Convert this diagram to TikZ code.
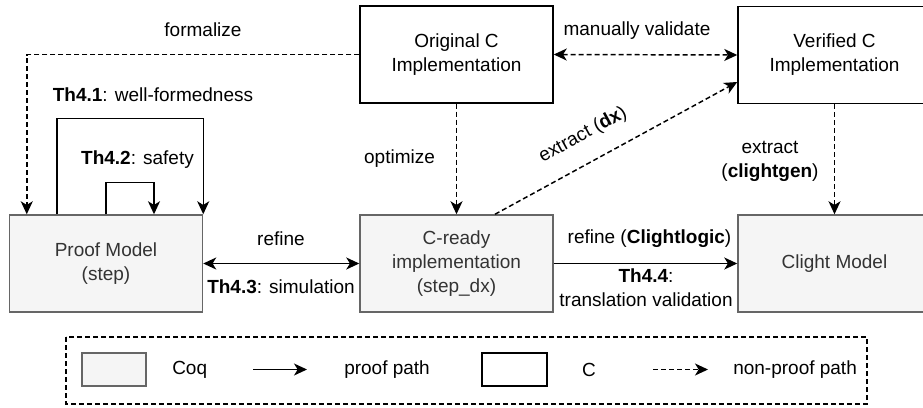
\documentclass[tikz,border=0pt]{standalone}
\usepackage{fontspec}
\setmainfont{Liberation Sans}
\usetikzlibrary{arrows.meta,calc}

\definecolor{coqfill}{HTML}{F5F5F5}
\definecolor{coqline}{HTML}{666666}
\definecolor{coqtext}{HTML}{333333}

\tikzset{
  >={Stealth[length=9.75pt,width=9pt,inset=2.75pt]},
  coqbox/.style={draw=coqline, fill=coqfill, text=coqtext, line width=1.1pt, minimum width=144.75pt, minimum height=72.75pt, inner sep=0pt, align=center},
  cbox/.style={draw=black, fill=white, line width=1.1pt, minimum width=144.75pt, minimum height=72.75pt, inner sep=0pt, align=center},
  pline/.style={line width=1.1pt},
  dline/.style={line width=1.1pt, dash pattern={on 3.75pt off 2.25pt}},
  lbl/.style={inner sep=0.75pt, align=center},
}

\begin{document}
\begin{tikzpicture}[x=0.75pt,y=0.75pt,yscale=-1,xscale=1,font=\fontsize{14.25}{18}\selectfont]
\useasboundingbox (0,0) rectangle (923,407);

%Shape: Rectangle
\node[cbox] (orig) at (456.5,54.5) {Original C\\Implementation};
%Shape: Rectangle
\node[cbox] (verif) at (834.5,55) {Verified C\\Implementation};
%Shape: Rectangle
\node[coqbox] (proof) at (106,263.5) {Proof Model\\(step)};
%Shape: Rectangle
\node[coqbox] (cready) at (456.5,263.5) {C-ready\\implementation\\(step\_dx)};
%Shape: Rectangle
\node[coqbox] (clight) at (834.5,263.5) {Clight Model};

%Straight Lines
\draw[dline,->] (orig.west) -| ($(proof.north west)+(18,0)$);
%Straight Lines
\draw[pline,->] ($(proof.north west)+(48,0)$) -- ++(0,-96) -| (proof.north east);
%Straight Lines
\draw[pline,->] (proof.north) -- ++(0,-32) -| ($(proof.north)+(48,0)$);
%Straight Lines
\draw[dline,->] (orig.south) -- (cready.north);
%Straight Lines
\draw[dline,<->] (orig.east) -- (verif.west);
%Straight Lines
\draw[dline,->] ($(cready.north)+(38.5,0)$) -- ($(verif.west)+(0,27)$);
%Straight Lines
\draw[dline,->] (verif.south) -- (clight.north);
%Straight Lines
\draw[pline,<->] (proof.east) -- (cready.west);
%Straight Lines
\draw[pline,->] (cready.east) -- (clight.west);

% Text Node
\node[lbl] (formalize) at (203,30) {formalize};
% Text Node
\node[lbl] (wellformed) at (153,95) {\textbf{Th4.1}: well-formedness};
% Text Node
\node[lbl] (safety) at (137.5,160) {\textbf{Th4.2}: safety};
% Text Node
\node[lbl] (optimize) at (399.5,159) {optimize};
% Text Node
\node[lbl] (validate) at (637,31) {manually validate};
% Text Node
\node[lbl, rotate=28.7] (extractdx) at (583,135) {extract (\textbf{dx})};
% Text Node
\node[lbl] (clightgen) at (770,161) {extract\\(\textbf{clightgen})};
% Text Node
\node[lbl] (refine) at (281,239) {refine};
% Text Node
\node[lbl] (simulation) at (281,287) {\textbf{Th4.3}: simulation};
% Text Node
\node[lbl] (refinecl) at (649.5,239) {refine (\textbf{Clightlogic})};
% Text Node
\node[lbl] (transval) at (646,288) {\textbf{Th4.4}:\\translation validation};

%Legend
\draw[line width=1pt, dash pattern={on 3.75pt off 2.25pt}] (66,337) rectangle (867,404);
\node[coqbox, minimum width=48pt, minimum height=24.75pt] (coqkey) at (114,369.5) {};
\node[anchor=west, inner sep=0pt] (coqtxt) at (172,369.5) {Coq};
\coordinate (pathA) at (253,369.5);
\coordinate (pathB) at (307,369.5);
\draw[pline,->] (pathA) -- (pathB);
\node[anchor=west, inner sep=0pt] (prooftxt) at (344,369.5) {proof path};
\node[cbox, minimum width=48.75pt, minimum height=24.75pt] (ckey) at (514.5,369.5) {};
\node[inner sep=0pt] (ctxt) at (589,369.5) {C};
\coordinate (npathA) at (653,369.5);
\coordinate (npathB) at (708,369.5);
\draw[dline,->] (npathA) -- (npathB);
\node[anchor=west, inner sep=0pt] (nonprooftxt) at (733,369.5) {non-proof path};

\end{tikzpicture}
\end{document}
